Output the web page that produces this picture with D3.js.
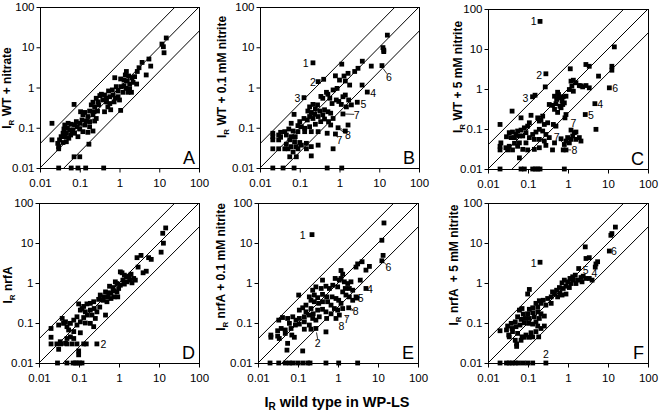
<!DOCTYPE html>
<html><head><meta charset="utf-8">
<script src="https://cdn.jsdelivr.net/npm/d3@7"></script>
<style>
body{margin:0;background:#fff}
text{font-family:"Liberation Sans",Arial,sans-serif;fill:#000}
</style>
</head><body>
<svg id="chart" width="664" height="416"></svg>
<script>
// ---------- data ----------
const panelLetters = ["A","B","C","D","E","F"];
const yTitles = ["WT + nitrate","WT + 0.1 mM nitrite","WT + 5 mM nitrite","nrfA","nrfA + 0.1 mM nitrite","nrfA  + 5 mM nitrite"];
const xTitle = " wild type in WP-LS";
const tickValues = [0.01, 0.1, 1, 10, 100];
const tickLabels = ["0.01","0.1","1","10","100"];
const ratioLines = [4, 1, 0.25];

const dataA = [[15,17],[11.7,12],[12.7,10.3],[13.2,7.3],[5.5,5.1],[3.7,4.2],[6.1,3.4],[3.1,3.1],[2.8,2.5],[4.7,2.05],[1.49,2.5],[1.4,2.05],[1.7,1.93],[2.06,1.75],[2.4,1.86],[0.76,1.75],[1.07,1.63],[1.3,1.53],[1.57,1.45],[1.8,1.2],[2.19,1.34],[2.7,1.22],[0.83,1.05],[1.11,1.05],[1.3,1.11],[1.46,0.95],[1.8,0.92],[2.0,0.76],[1.64,0.76],[1.22,0.76],[0.92,0.82],[0.66,0.87],[0.53,0.82],[0.35,0.68],[0.42,0.65],[0.32,0.63],[0.26,0.54],[0.47,0.54],[0.57,0.59],[0.69,0.65],[0.79,0.54],[0.92,0.59],[1.0,0.49],[0.73,0.44],[0.57,0.40],[0.47,0.44],[0.38,0.49],[0.29,0.44],[0.215,0.43],[0.195,0.37],[0.237,0.33],[0.30,0.37],[0.51,0.33],[0.60,0.28],[0.42,0.25],[1.07,0.27],[0.28,0.26],[0.23,0.25],[0.177,0.26],[0.133,0.24],[0.105,0.25],[0.12,0.21],[0.16,0.19],[0.215,0.21],[0.26,0.17],[0.237,0.147],[0.177,0.142],[0.147,0.147],[0.114,0.156],[0.10,0.129],[0.072,0.38],[0.133,0.117],[0.177,0.106],[0.215,0.083],[0.16,0.077],[0.12,0.080],[0.10,0.093],[0.087,0.106],[0.074,0.117],[0.061,0.122],[0.051,0.129],[0.042,0.117],[0.049,0.097],[0.040,0.093],[0.056,0.088],[0.068,0.088],[0.074,0.073],[0.09,0.060],[0.059,0.066],[0.046,0.073],[0.038,0.073],[0.043,0.060],[0.034,0.060],[0.031,0.050],[0.028,0.041],[0.0295,0.034],[0.0295,0.030],[0.038,0.043],[0.046,0.045],[0.02,0.129],[0.02,0.05],[0.17,0.039],[0.072,0.019],[0.1,0.019],[0.0295,0.01],[0.061,0.01],[0.09,0.01],[0.141,0.01],[0.40,0.01],[0.082,0.142],[0.064,0.08],[0.053,0.055]];

const dataB = [[16,20],[12.4,9.8],[13,8.5],[13,7.8],[0.215,4.1],[0.29,1.4],[0.4,1.6],[0.128,0.56],[5.0,0.77],[2.8,0.43],[11.7,3.5],[3.75,4.5],[6.3,3.4],[2.92,3.0],[2.41,2.5],[1.14,3.8],[1.64,2.25],[1.3,1.93],[0.79,1.95],[1.0,1.53],[1.4,1.45],[1.8,1.15],[3.7,1.15],[0.87,0.95],[0.69,0.87],[0.47,0.76],[0.51,0.68],[0.34,0.60],[0.38,0.54],[0.57,0.54],[0.65,0.40],[0.83,0.49],[0.96,0.45],[1.22,0.59],[1.4,0.65],[1.7,0.49],[1.99,0.37],[1.49,0.33],[1.11,0.38],[1.22,0.22],[0.28,0.37],[0.215,0.38],[0.177,0.33],[0.247,0.29],[0.16,0.26],[0.195,0.24],[0.237,0.215],[0.32,0.26],[0.42,0.28],[0.51,0.25],[0.60,0.23],[0.38,0.21],[0.29,0.19],[0.215,0.17],[0.177,0.19],[0.155,0.156],[0.128,0.17],[0.10,0.142],[0.072,0.215],[0.061,0.129],[0.09,0.113],[0.11,0.106],[0.133,0.097],[0.177,0.106],[0.247,0.122],[0.336,0.142],[0.42,0.165],[0.53,0.142],[0.60,0.117],[0.69,0.17],[0.29,0.080],[0.49,0.073],[0.79,0.070],[1.4,0.083],[0.92,0.10],[1.64,0.117],[0.195,0.080],[0.133,0.080],[0.09,0.080],[0.068,0.083],[0.053,0.093],[0.042,0.080],[0.033,0.077],[0.0295,0.066],[0.021,0.073],[0.021,0.060],[0.021,0.050],[0.0295,0.050],[0.033,0.058],[0.046,0.066],[0.061,0.060],[0.077,0.060],[0.056,0.050],[0.074,0.045],[0.10,0.043],[0.046,0.039],[0.061,0.034],[0.082,0.034],[0.11,0.037],[0.147,0.041],[0.195,0.034],[0.29,0.037],[0.09,0.030],[0.068,0.025],[0.051,0.030],[0.042,0.030],[0.0295,0.030],[0.021,0.030],[0.056,0.019],[0.082,0.019],[0.195,0.020],[0.69,0.030],[0.147,0.030],[0.021,0.01],[0.038,0.01],[0.072,0.01],[0.49,0.01],[1.14,0.01]];

const dataC = [[0.20,49],[0.28,2.4],[0.27,1.13],[0.13,0.64],[0.15,0.70],[4.7,0.43],[2.7,0.23],[10.8,1.07],[14.4,11.3],[12.5,3.7],[12.5,2.95],[5.8,2.1],[2.8,4.1],[3.4,3.7],[1.14,3.2],[1.19,1.57],[1.36,1.66],[1.58,1.43],[1.92,1.22],[2.33,1.13],[2.82,1.22],[3.4,1.07],[1.25,1.18],[1.08,0.97],[1.36,0.88],[2.11,1.2],[0.55,0.83],[0.58,0.73],[0.46,0.66],[0.52,0.55],[0.61,0.60],[0.71,0.50],[0.50,0.43],[0.63,0.37],[0.74,0.41],[0.41,0.39],[0.34,0.41],[0.46,0.31],[0.55,0.26],[0.67,0.34],[0.81,0.45],[0.89,0.66],[0.76,0.64],[0.84,0.19],[0.89,0.23],[0.43,0.13],[0.50,0.118],[0.31,0.143],[0.256,0.13],[0.211,0.17],[0.192,0.158],[0.175,0.19],[0.233,0.21],[0.119,0.22],[0.108,0.143],[0.067,0.19],[0.040,0.28],[0.020,0.13],[0.098,0.118],[0.081,0.107],[0.067,0.094],[0.055,0.089],[0.050,0.073],[0.041,0.084],[0.034,0.081],[0.029,0.064],[0.038,0.061],[0.046,0.061],[0.061,0.067],[0.074,0.067],[0.089,0.081],[0.131,0.073],[0.158,0.084],[0.192,0.098],[0.233,0.089],[0.28,0.073],[0.108,0.061],[0.144,0.055],[0.192,0.055],[0.256,0.050],[0.34,0.061],[0.46,0.045],[0.089,0.045],[0.061,0.045],[0.046,0.044],[0.034,0.037],[0.028,0.034],[0.021,0.045],[0.020,0.037],[0.020,0.030],[0.031,0.030],[0.041,0.030],[0.055,0.037],[0.074,0.031],[0.098,0.030],[0.144,0.031],[0.192,0.034],[0.28,0.039],[0.41,0.030],[0.76,0.030],[0.89,0.030],[0.81,0.041],[1.08,0.045],[1.19,0.055],[1.31,0.067],[1.44,0.081],[1.58,0.084],[1.19,0.094],[1.58,0.055],[1.92,0.061],[2.11,0.050],[0.98,0.061],[0.89,0.050],[0.67,0.057],[0.061,0.019],[5.0,0.098],[0.020,0.01],[0.067,0.01],[0.081,0.01],[0.131,0.01],[0.152,0.01],[0.175,0.01],[0.20,0.01],[0.81,0.01]];

const dataD = [[14.7,23.8],[12.4,17.5],[12.9,9.9],[11.3,5.9],[2.82,4.3],[3.55,4.9],[5.5,4.3],[6.4,3.9],[3.0,2.5],[4.0,1.8],[4.8,1.97],[1.08,1.9],[1.19,1.8],[1.36,1.57],[1.52,1.43],[1.75,1.48],[2.0,1.66],[2.33,1.3],[2.56,1.18],[1.25,1.18],[1.58,1.07],[1.85,1.18],[2.11,1.01],[1.36,0.94],[1.08,0.88],[0.89,0.97],[0.81,1.07],[0.98,0.73],[0.71,0.77],[0.58,0.83],[0.89,0.60],[0.74,0.64],[0.63,0.55],[0.55,0.57],[0.46,0.60],[0.52,0.45],[0.41,0.45],[0.34,0.50],[0.31,0.39],[0.40,0.37],[0.50,0.34],[0.63,0.41],[0.76,0.45],[0.93,0.45],[0.233,0.34],[0.192,0.31],[0.158,0.30],[0.131,0.26],[0.119,0.23],[0.098,0.30],[0.108,0.21],[0.144,0.19],[0.192,0.21],[0.24,0.23],[0.28,0.19],[0.33,0.25],[0.46,0.158],[0.256,0.13],[0.211,0.158],[0.162,0.158],[0.131,0.137],[0.089,0.143],[0.074,0.118],[0.108,0.107],[0.144,0.10],[0.192,0.098],[0.233,0.081],[0.089,0.089],[0.061,0.098],[0.050,0.081],[0.041,0.098],[0.038,0.13],[0.046,0.107],[0.031,0.089],[0.020,0.073],[0.055,0.067],[0.074,0.061],[0.108,0.057],[0.061,0.045],[0.074,0.041],[0.050,0.041],[0.034,0.034],[0.046,0.031],[0.020,0.044],[0.020,0.030],[0.028,0.030],[0.035,0.030],[0.050,0.030],[0.067,0.030],[0.089,0.030],[0.131,0.030],[0.152,0.030],[0.28,0.030],[0.031,0.022],[0.098,0.020],[0.098,0.016],[0.029,0.01],[0.05,0.01],[0.071,0.01],[0.081,0.01],[0.089,0.01],[0.104,0.01],[0.119,0.01]];

const dataE = [[0.224,16.2],[14.1,31.7],[12.5,11.7],[13.4,4.9],[12.5,3.6],[6.1,2.6],[5.0,2.1],[4.0,3.4],[3.1,3.0],[2.82,2.5],[3.6,1.18],[5.0,0.73],[3.0,0.42],[1.19,2.05],[1.31,1.66],[1.19,1.3],[0.85,1.3],[1.08,1.18],[1.44,1.07],[1.75,0.97],[2.11,1.07],[2.33,0.66],[1.92,0.73],[1.52,0.73],[1.31,0.60],[1.58,0.50],[1.92,0.45],[2.33,0.37],[2.82,0.45],[0.98,0.80],[0.74,0.88],[0.41,1.18],[0.50,0.83],[0.61,0.73],[0.38,0.73],[0.28,0.80],[0.233,0.66],[0.192,0.45],[0.104,0.50],[0.256,0.50],[0.31,0.43],[0.41,0.52],[0.52,0.45],[0.71,0.45],[0.89,0.41],[1.04,0.37],[1.19,0.31],[0.67,0.28],[0.55,0.34],[0.41,0.34],[0.33,0.31],[0.256,0.34],[0.211,0.37],[0.158,0.28],[0.131,0.24],[0.108,0.21],[0.158,0.19],[0.211,0.23],[0.24,0.17],[0.31,0.21],[0.41,0.22],[0.50,0.19],[0.81,0.23],[0.98,0.21],[1.31,0.23],[1.85,0.24],[1.08,0.158],[0.89,0.13],[0.67,0.17],[0.52,0.13],[0.34,0.143],[0.28,0.118],[0.233,0.13],[0.192,0.158],[0.144,0.143],[0.108,0.13],[0.089,0.118],[0.074,0.143],[0.055,0.13],[0.041,0.137],[0.033,0.118],[0.061,0.098],[0.086,0.089],[0.108,0.094],[0.144,0.107],[0.192,0.089],[0.28,0.073],[0.211,0.07],[0.144,0.07],[0.067,0.073],[0.048,0.067],[0.038,0.073],[0.031,0.064],[0.021,0.050],[0.021,0.044],[0.031,0.047],[0.034,0.041],[0.048,0.055],[0.070,0.050],[0.081,0.044],[0.055,0.031],[0.50,0.060],[0.053,0.021],[0.131,0.020],[0.020,0.01],[0.033,0.01],[0.048,0.01],[0.061,0.01],[0.074,0.01],[0.098,0.01],[0.131,0.01],[0.175,0.01],[0.20,0.01],[0.50,0.01],[1.04,0.01],[3.1,0.01]];

const dataF = [[0.20,3.3],[15.3,25],[12.5,17.2],[11.8,15.6],[10.8,6.3],[2.7,8.0],[2.82,4.1],[3.4,4.3],[5.5,3.4],[5.0,3.0],[4.8,2.5],[1.85,2.3],[3.4,1.3],[4.0,1.18],[1.52,1.57],[1.31,1.43],[1.12,1.30],[1.36,1.18],[1.75,1.18],[2.11,1.37],[2.4,1.48],[2.82,1.30],[2.24,1.07],[1.58,0.97],[1.19,0.97],[0.98,1.07],[0.81,1.18],[0.71,1.01],[0.89,0.83],[1.08,0.77],[0.76,0.73],[0.61,0.77],[0.52,0.66],[0.63,0.57],[0.46,0.53],[0.41,0.60],[0.55,0.45],[0.71,0.50],[0.89,0.53],[0.38,0.45],[0.31,0.41],[0.24,0.37],[0.192,0.36],[0.158,0.31],[0.211,0.31],[0.28,0.28],[0.38,0.31],[0.175,0.25],[0.131,0.24],[0.108,0.22],[0.071,0.23],[0.061,0.21],[0.076,0.167],[0.098,0.17],[0.131,0.18],[0.175,0.19],[0.211,0.17],[0.256,0.149],[0.192,0.13],[0.144,0.143],[0.108,0.13],[0.086,0.13],[0.067,0.123],[0.055,0.143],[0.048,0.107],[0.038,0.098],[0.031,0.084],[0.040,0.073],[0.050,0.081],[0.063,0.089],[0.081,0.101],[0.104,0.098],[0.131,0.094],[0.158,0.107],[0.175,0.084],[0.211,0.073],[0.256,0.084],[0.158,0.061],[0.119,0.057],[0.089,0.050],[0.071,0.045],[0.055,0.055],[0.041,0.061],[0.033,0.050],[0.029,0.067],[0.034,0.045],[0.048,0.037],[0.067,0.037],[0.081,0.044],[0.108,0.044],[0.131,0.045],[0.185,0.045],[0.052,0.030],[0.052,0.026],[0.020,0.064],[0.108,0.69],[0.098,0.53],[0.020,0.01],[0.029,0.01],[0.034,0.01],[0.040,0.01],[0.048,0.01],[0.058,0.01],[0.076,0.01],[0.098,0.01],[0.131,0.01],[0.28,0.01]];

// point labels: [text, x, y] in data units
const labelsA = [];
const labelsB = [["1",0.141,4.0],["2",0.215,1.34],["3",0.087,0.56],["4",7.0,0.72],["5",4.0,0.40],["6",17.6,1.86],["7",2.7,0.21],["8",1.64,0.066],["7",1.0,0.050]];
const labelsC = [["1",0.139,49],["2",0.19,2.3],["3",0.086,0.60],["4",6.4,0.43],["5",3.76,0.23],["6",15.2,1.05],["7",1.36,0.138],["7",0.52,0.063],["8",1.45,0.030]];
const labelsD = [["2",0.41,0.030]];
const labelsE = [["1",0.131,15.6],["2",0.31,0.031],["4",6.3,0.69],["5",3.7,0.42],["6",18.1,2.5],["8",2.77,0.20],["7",1.65,0.123],["8",1.21,0.085]];
const labelsF = [["1",0.139,3.2],["2",0.28,0.0168],["5",2.77,2.1],["4",4.6,1.73],["6",14.1,6.3]];
// leader lines: [x1,y1,x2,y2] in data units
const leadersA = [];
const leadersB = [[12.4,3.0,15.6,2.2],[1.3,0.22,2.35,0.215],[1.0,0.092,1.4,0.072],[1.05,0.1,1.4,0.075],[0.8,0.068,0.9,0.057]];
const leadersC = [[0.6,0.056,0.76,0.044],[0.9,0.030,1.2,0.030]];
const leadersD = [];
const leadersE = [[0.29,0.058,0.31,0.040],[14.0,3.3,16.5,2.8],[2.0,0.24,2.45,0.21],[2.0,0.215,2.45,0.205],[1.55,0.155,1.62,0.135]];
const leadersF = [];

// ---------- layout ----------
const frames = [
  {x0:40, x1:199, y0:7,   y1:168, tx:11,  ty:88},
  {x0:260,x1:419, y0:7,   y1:168, tx:226, ty:77},
  {x0:488,x1:648, y0:9,   y1:169, tx:462, ty:77},
  {x0:39, x1:199, y0:203, y1:363, tx:12,  ty:285},
  {x0:258,x1:418, y0:203, y1:363, tx:225, ty:267},
  {x0:488,x1:648, y0:203, y1:363, tx:458, ty:265}
];
const allData = [dataA,dataB,dataC,dataD,dataE,dataF];
const allLabels = [labelsA,labelsB,labelsC,labelsD,labelsE,labelsF];
const allLeaders = [leadersA,leadersB,leadersC,leadersD,leadersE,leadersF];

const svg = d3.select("#chart");
const ms = 4.8; // marker size

panelLetters.forEach((letter, i) => {
  const f = frames[i];
  const x = d3.scaleLog().domain([0.01,100]).range([f.x0,f.x1]);
  const y = d3.scaleLog().domain([0.01,100]).range([f.y1,f.y0]);
  const g = svg.append("g");

  g.append("clipPath").attr("id","clip"+i)
    .append("rect").attr("x",f.x0).attr("y",f.y0).attr("width",f.x1-f.x0).attr("height",f.y1-f.y0);

  g.append("g").attr("clip-path",`url(#clip${i})`)
    .selectAll("line").data(ratioLines).join("line")
    .attr("x1",x(0.001)).attr("y1",k=>y(0.001*k))
    .attr("x2",x(1000)).attr("y2",k=>y(1000*k))
    .attr("stroke","#000").attr("stroke-width",1);

  g.append("rect").attr("x",f.x0+0.5).attr("y",f.y0+0.5)
    .attr("width",f.x1-f.x0).attr("height",f.y1-f.y0)
    .attr("fill","none").attr("stroke","#000").attr("stroke-width",1);

  const ya = g.append("g").attr("transform",`translate(${f.x0+0.5},0)`)
    .call(d3.axisLeft(y).tickValues(tickValues).tickFormat((d,j)=>tickLabels[j]).tickSize(4).tickSizeOuter(0).tickPadding(2));
  const xa = g.append("g").attr("transform",`translate(0,${f.y1+0.5})`)
    .call(d3.axisBottom(x).tickValues(tickValues).tickFormat((d,j)=>tickLabels[j]).tickSize(4).tickSizeOuter(0).tickPadding(6));
  [ya,xa].forEach(a=>{
    a.select(".domain").remove();
    a.selectAll("text").attr("font-size",11.5).attr("font-family","'Liberation Sans',Arial,sans-serif").attr("fill","#000");
    a.selectAll("line").attr("stroke","#000");
  });

  g.append("g").selectAll("rect").data(allData[i]).join("rect")
    .attr("x",d=>x(d[0])-ms/2).attr("y",d=>y(d[1])-ms/2)
    .attr("width",ms).attr("height",ms).attr("fill","#000");

  g.append("g").selectAll("line").data(allLeaders[i]).join("line")
    .attr("x1",d=>x(d[0])).attr("y1",d=>y(d[1]))
    .attr("x2",d=>x(d[2])).attr("y2",d=>y(d[3]))
    .attr("stroke","#000").attr("stroke-width",0.8);

  g.append("g").selectAll("text").data(allLabels[i]).join("text")
    .attr("x",d=>x(d[1])).attr("y",d=>y(d[2]))
    .attr("text-anchor","middle").attr("dominant-baseline","central")
    .attr("font-size",10.5).text(d=>d[0]);

  g.append("text").attr("x",f.x1-4).attr("y",f.y1-4)
    .attr("text-anchor","end").attr("font-size",18).text(letter);

  const t = g.append("text").attr("transform",`translate(${f.tx},${f.ty}) rotate(-90)`)
    .attr("text-anchor","middle").attr("font-size",12).attr("font-weight","bold")
    .style("white-space","pre");
  t.append("tspan").text("I");
  t.append("tspan").attr("font-size",8).attr("dy",3).text("R");
  t.append("tspan").attr("dy",-3).text(" " + yTitles[i]);
});

const xt = svg.append("text").attr("x",337).attr("y",407)
  .attr("text-anchor","middle").attr("font-size",14.5).attr("font-weight","bold")
  .style("white-space","pre");
xt.append("tspan").text("I");
xt.append("tspan").attr("font-size",10).attr("dy",3).text("R");
xt.append("tspan").attr("dy",-3).text(xTitle);
</script>
</body></html>
